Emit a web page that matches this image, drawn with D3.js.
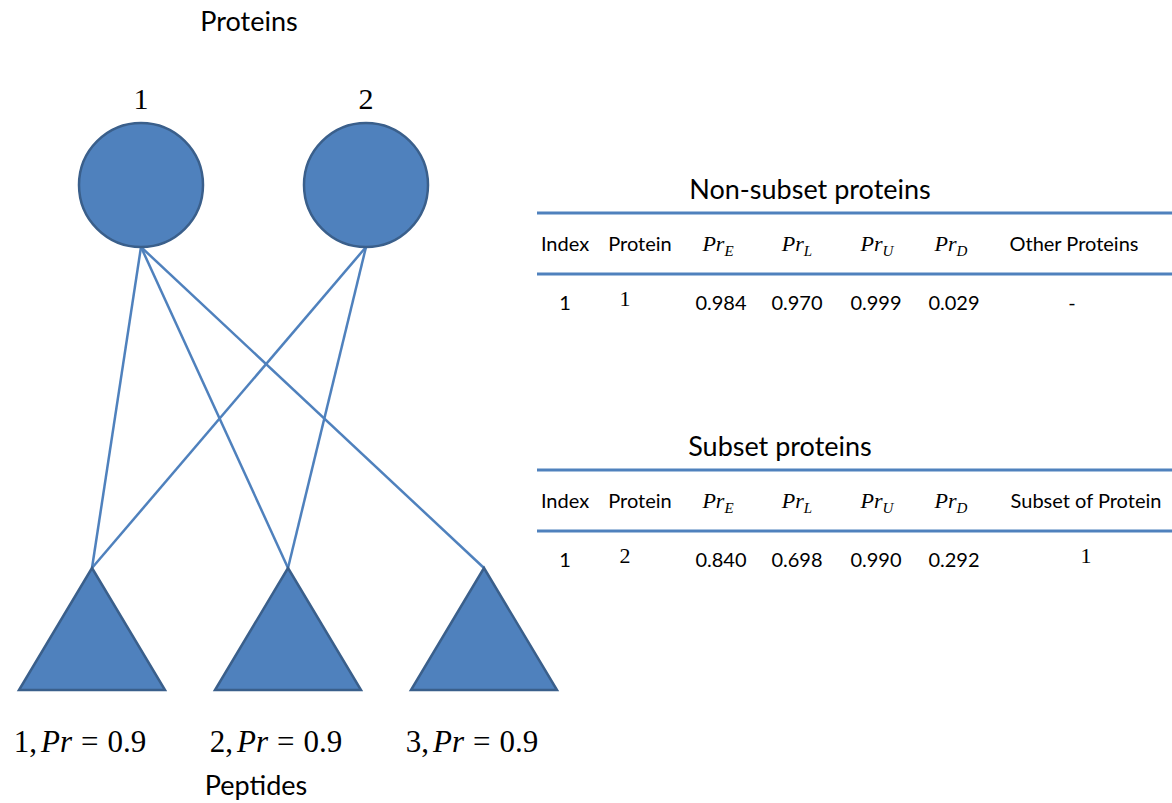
<!DOCTYPE html>
<html><head><meta charset="utf-8">
<script src="https://cdn.jsdelivr.net/npm/d3@7"></script>
<style>body{margin:0;background:#fff}svg{display:block}</style>
</head><body>
<script>
// ---- data ----
const proteins = [1, 2];
const peptides = [1, 2, 3];
const peptideProbs = [0.9, 0.9, 0.9];
const edges = [[1,1],[1,2],[1,3],[2,1],[2,2]]; // [protein, peptide]
const columnsNonSubset = ["Index","Protein","E","L","U","D","Other Proteins"];
const columnsSubset = ["Index","Protein","E","L","U","D","Subset of Protein"];
const nonSubsetRow = ["1","1","0.984","0.970","0.999","0.029","-"];
const subsetRow = ["1","2","0.840","0.698","0.990","0.292","1"];

const W = 1172, H = 803;
const blue = "#4F81BD", dark = "#3A5F8B";
const sans = "Lato, 'Open Sans', sans-serif";
const serif = "'Liberation Serif', 'DejaVu Serif', serif";

const svg = d3.select("body").append("svg").attr("width", W).attr("height", H);

const xProt = d3.scalePoint().domain(proteins).range([141, 366]);
const xPep = d3.scalePoint().domain(peptides).range([92, 484]);
const yProt = 185, r = 62, yApex = 568, yBase = 690, halfBase = 73;

// edges
svg.append("g").selectAll("line").data(edges).join("line")
  .attr("x1", d => xProt(d[0])).attr("y1", yProt + r)
  .attr("x2", d => xPep(d[1])).attr("y2", yApex)
  .attr("stroke", blue).attr("stroke-width", 2.5);

// proteins
svg.append("g").selectAll("circle").data(proteins).join("circle")
  .attr("cx", d => xProt(d)).attr("cy", yProt).attr("r", r)
  .attr("fill", blue).attr("stroke", dark).attr("stroke-width", 2.5);
svg.append("g").selectAll("text").data(proteins).join("text")
  .attr("x", d => xProt(d)).attr("y", 109).attr("text-anchor","middle")
  .attr("font-family", serif).attr("font-size", 30).text(d => d);

// peptides
svg.append("g").selectAll("path").data(peptides).join("path")
  .attr("d", d => { const x = xPep(d); return `M${x},${yApex}L${x+halfBase},${yBase}L${x-halfBase},${yBase}Z`; })
  .attr("fill", blue).attr("stroke", dark).attr("stroke-width", 2.5).attr("stroke-linejoin","miter");
const pl = svg.append("g").selectAll("text").data(peptides).join("text")
  .attr("x", d => xPep(d) - 12).attr("y", 752).attr("text-anchor","middle")
  .attr("font-family", serif).attr("font-size", 31).attr("xml:space","preserve");
pl.append("tspan").text(d => d + ",");
pl.append("tspan").attr("font-style","italic").attr("dx", 4).text("Pr");
pl.append("tspan").attr("dx", 9).text("=");
pl.append("tspan").attr("dx", 9).text((d,i) => peptideProbs[i]);

svg.append("text").attr("x", 249).attr("y", 31).attr("text-anchor","middle")
  .attr("font-family", sans).attr("font-size", 27).text("Proteins");
svg.append("text").attr("x", 256).attr("y", 795).attr("text-anchor","middle")
  .attr("font-family", sans).attr("font-size", 27).text("Peptides");

// tables
const colX = [565, 640, 718, 797, 877, 951, 1074];
const dataX = [565, 625, 721, 797, 876, 954, 1072];
function table(title, titleX, y0, cols, row, lastSerif) {
  const g = svg.append("g");
  g.append("text").attr("x", titleX).attr("y", y0 - 14).attr("text-anchor","middle")
    .attr("font-family", sans).attr("font-size", 27).text(title);
  g.append("line").attr("x1", 537).attr("x2", W).attr("y1", y0).attr("y2", y0)
    .attr("stroke", blue).attr("stroke-width", 3);
  g.append("line").attr("x1", 537).attr("x2", W).attr("y1", y0 + 61).attr("y2", y0 + 61)
    .attr("stroke", blue).attr("stroke-width", 3);
  cols.forEach((c, i) => {
    const t = g.append("text").attr("x", colX[i] + (i === 6 && lastSerif ? 12 : 0)).attr("y", y0 + 38).attr("text-anchor","middle");
    if (i >= 2 && i <= 5) {
      t.attr("font-family", serif).attr("font-size", 22);
      t.append("tspan").attr("font-style","italic").text("Pr");
      t.append("tspan").attr("font-style","italic").attr("font-size", 15).attr("dy", 5).text(c);
    } else {
      t.attr("font-family", sans).attr("font-size", 20).text(c);
    }
  });
  row.forEach((v, i) => {
    const isSerif = (i === 1) || (i === 6 && lastSerif);
    g.append("text").attr("x", dataX[i] + (i === 6 && lastSerif ? 14 : 0))
      .attr("y", y0 + (isSerif ? 93 : 97)).attr("text-anchor","middle")
      .attr("font-family", isSerif ? serif : sans).attr("font-size", isSerif ? 22 : 20).text(v);
  });
}
table("Non-subset proteins", 810, 213, columnsNonSubset, nonSubsetRow, false);
table("Subset proteins", 780, 470, columnsSubset, subsetRow, true);
</script>
</body></html>
